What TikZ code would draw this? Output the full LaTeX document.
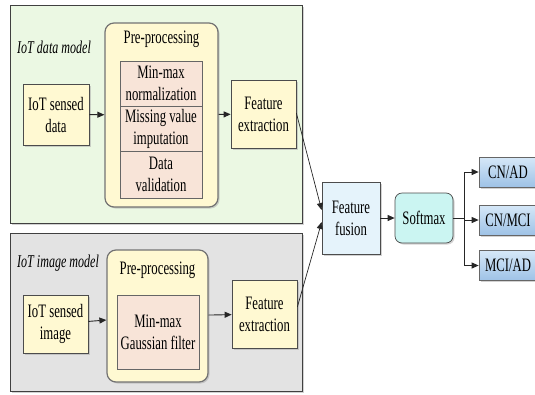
\documentclass[tikz,border=0pt]{standalone}
\usepackage{fontspec}
\setmainfont{Liberation Serif}[FakeStretch=0.67]
\usetikzlibrary{shadows,arrows.meta,calc}

\definecolor{panelgreen}{HTML}{EBF8E3}
\definecolor{panelgray}{HTML}{E3E3E3}
\definecolor{boxyellow}{HTML}{FFF9D2}
\definecolor{boxpink}{HTML}{F8E4D8}
\definecolor{boxblue}{HTML}{E5F3FB}
\definecolor{boxcyan}{HTML}{CBF5F2}
\definecolor{outtop}{HTML}{D6E8F8}
\definecolor{outbot}{HTML}{9EC2E6}

\begin{document}
\begin{tikzpicture}[x=1pt,y=-1pt,
  font=\fontsize{19}{22}\selectfont,
  shade/.style={drop shadow={shadow xshift=1.5pt,shadow yshift=-1.5pt,fill=gray!70}},
  panel/.style={draw=black!75,line width=0.8pt,inner sep=0pt,shade},
  blockbox/.style={draw=black!70,line width=0.7pt,fill=boxyellow,align=center,inner sep=1pt,shade},
  prebox/.style={draw=black!55,line width=1.2pt,rounded corners=9pt,fill=boxyellow,inner sep=0pt,shade},
  stepbox/.style={draw=black!60,line width=0.7pt,fill=boxpink,align=center,inner sep=1pt,minimum width=82pt},
  outbox/.style={draw=black!60,line width=0.7pt,top color=outtop,bottom color=outbot,inner sep=1pt,minimum width=58pt,minimum height=30pt,shade},
  arr/.style={-{Triangle[length=7pt,width=6pt]},line width=0.9pt,black!85}]

\useasboundingbox (0,0) rectangle (535,394);

% panels
\node[panel,fill=panelgreen,minimum width=292pt,minimum height=218pt] (datapanel) at (156,114) {};
\node[panel,fill=panelgray,minimum width=292pt,minimum height=158pt] (imagepanel) at (156,312) {};
\node[anchor=west,inner sep=0pt,font=\fontsize{18}{20}\selectfont\itshape] (datalabel) at (17,47) {IoT data model};
\node[anchor=west,inner sep=0pt,font=\fontsize{18}{20}\selectfont\itshape] (imagelabel) at (17,263) {IoT image model};

% data branch
\node[blockbox,minimum width=66pt,minimum height=61pt] (sensdata) at (56,114.5) {IoT sensed\\data};
\node[prebox,minimum width=113pt,minimum height=184pt] (predata) at (161.5,115) {};
\node[inner sep=0pt] (predatatitle) at (161.5,39) {Pre-processing};
\node[stepbox,minimum height=45pt] (minmax) at (161,83.5) {Min-max\\normalization};
\node[stepbox,minimum height=45pt] (missing) at (161,128.5) {Missing value\\imputation};
\node[stepbox,minimum height=47pt] (valid) at (161,174.5) {Data\\validation};
\node[blockbox,minimum width=65pt,minimum height=68pt] (featdata) at (263.5,114) {Feature\\extraction};

% image branch
\node[blockbox,minimum width=65pt,minimum height=58pt] (sensimage) at (55.5,324) {IoT sensed\\image};
\node[prebox,minimum width=101pt,minimum height=132pt] (preimage) at (157.5,316) {};
\node[inner sep=0pt] (preimagetitle) at (157.5,270) {Pre-processing};
\node[stepbox,minimum height=74pt] (gauss) at (158,332) {Min-max\\Gaussian filter};
\node[blockbox,minimum width=65pt,minimum height=68pt] (featimage) at (264.5,314) {Feature\\extraction};

% fusion and classes
\node[blockbox,fill=boxblue,minimum width=58pt,minimum height=72pt] (fusion) at (351,218) {Feature\\fusion};
\node[blockbox,fill=boxcyan,rounded corners=7pt,minimum width=58pt,minimum height=50pt] (softmax) at (424,218) {Softmax};
\node[outbox] (cnad) at (508,172) {CN/AD};
\node[outbox] (cnmci) at (508,220) {CN/MCI};
\node[outbox] (mciad) at (508,265.5) {MCI/AD};
\coordinate (split) at (464,218);

\draw[arr] (sensdata) -- (predata);
\draw[arr] (predata) -- (featdata);
\draw[arr] (sensimage) -- (preimage);
\draw[arr] (preimage) -- (featimage);
\draw[arr,line width=0.7pt] ($(featdata.east)+(0,-1)$) -- ($(fusion.west)+(0,-8)$);
\draw[arr,line width=0.7pt] ($(featimage.east)+(0,-7)$) -- ($(fusion.west)+(0,4)$);
\draw[arr] (fusion) -- (softmax);
\draw[line width=0.9pt,black!85] (softmax) -- (split);
\draw[arr] (split) |- (cnad);
\draw[arr] (split) |- (cnmci);
\draw[arr] (split) |- (mciad);

\end{tikzpicture}
\end{document}
